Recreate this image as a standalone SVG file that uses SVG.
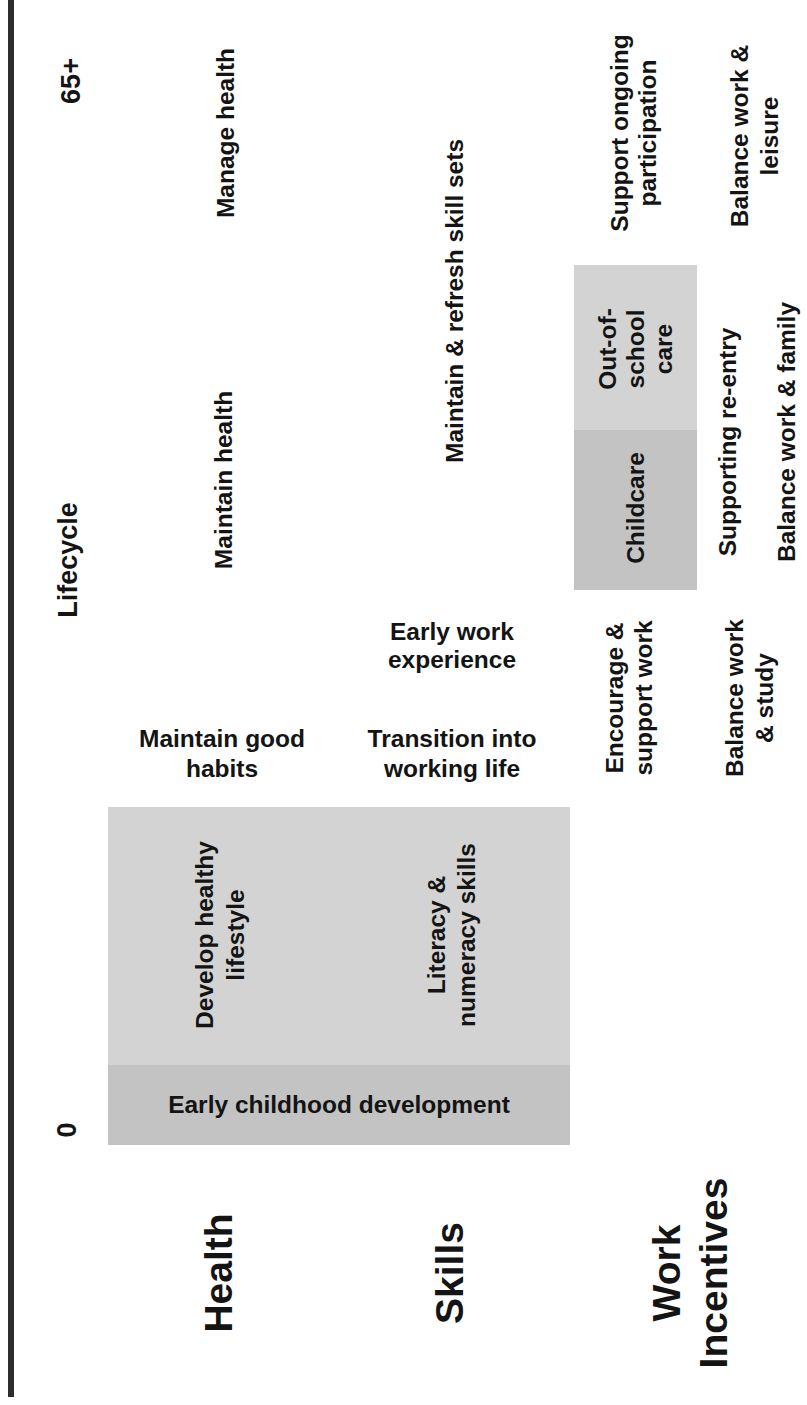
<svg xmlns="http://www.w3.org/2000/svg" width="807" height="1405" viewBox="0 0 807 1405">
<style>
.t{font-family:"Liberation Sans",Arial,Helvetica,sans-serif;font-weight:bold;fill:#141414;text-anchor:middle}
.m{font-size:24.5px}
.l{font-size:27px}
.b{font-size:39px}
.boxA{fill:#d3d3d3}
.boxB{fill:#c3c3c3}
</style>
<rect x="0" y="0" width="807" height="1405" fill="#ffffff"/>
<g id="axis"><rect x="8" y="0" width="6" height="1397" fill="#2e2e2e"/></g>
<g id="connectors"></g>

<g id="age-65"><text class="t l" transform="translate(80,81) rotate(-90)">65+</text></g>
<g id="lifecycle"><text class="t l" transform="translate(77,560) rotate(-90)">Lifecycle</text></g>
<g id="age-0"><text class="t l" transform="translate(76,1130) rotate(-90)">0</text></g>

<g id="manage-health"><text class="t m" transform="translate(234,133) rotate(-90)">Manage health</text></g>
<g id="maintain-health"><text class="t m" transform="translate(232,480) rotate(-90)">Maintain health</text></g>
<g id="maintain-good-habits"><text class="t m" x="222" y="747">Maintain good<tspan x="222" dy="30">habits</tspan></text></g>

<g id="early-childhood-box">
<rect class="boxA" x="108" y="807" width="462" height="258"/>
<rect class="boxB" x="108" y="1065" width="462" height="80"/>
<text class="t m" x="339" y="1113">Early childhood development</text>
</g>
<g id="develop-healthy-lifestyle"><text class="t m" transform="translate(213,935) rotate(-90)">Develop healthy<tspan x="0" dy="31">lifestyle</tspan></text></g>
<g id="literacy-numeracy"><text class="t m" transform="translate(445,935) rotate(-90)">Literacy &amp;<tspan x="0" dy="30">numeracy skills</tspan></text></g>

<g id="maintain-refresh"><text class="t m" transform="translate(463,301) rotate(-90)">Maintain &amp; refresh skill sets</text></g>
<g id="early-work"><text class="t m" x="452" y="640">Early work<tspan x="452" dy="28">experience</tspan></text></g>
<g id="transition"><text class="t m" x="452" y="747">Transition into<tspan x="452" dy="30">working life</tspan></text></g>

<g id="childcare-boxes">
<rect class="boxA" x="574" y="265" width="123" height="165"/>
<rect class="boxB" x="574" y="430" width="123" height="160"/>
</g>
<g id="out-of-school-care"><text class="t m" transform="translate(616,349) rotate(-90)">Out-of-<tspan x="0" dy="28">school</tspan><tspan x="0" dy="28">care</tspan></text></g>
<g id="childcare"><text class="t m" transform="translate(644,508) rotate(-90)">Childcare</text></g>

<g id="support-ongoing"><text class="t m" transform="translate(628,133) rotate(-90)">Support ongoing<tspan x="0" dy="28">participation</tspan></text></g>
<g id="encourage-support"><text class="t m" transform="translate(623,698) rotate(-90)">Encourage &amp;<tspan x="0" dy="29">support work</tspan></text></g>
<g id="supporting-reentry"><text class="t m" transform="translate(736,442) rotate(-90)">Supporting re-entry</text></g>

<g id="balance-leisure"><text class="t m" transform="translate(748,136) rotate(-90)">Balance work &amp;<tspan x="0" dy="30">leisure</tspan></text></g>
<g id="balance-family"><text class="t m" transform="translate(795,432) rotate(-90)">Balance work &amp; family</text></g>
<g id="balance-study"><text class="t m" transform="translate(743,698) rotate(-90)">Balance work<tspan x="0" dy="30">&amp; study</tspan></text></g>

<g id="health"><text class="t b" transform="translate(232,1273) rotate(-90)">Health</text></g>
<g id="skills"><text class="t b" transform="translate(463,1273) rotate(-90)">Skills</text></g>
<g id="work-incentives"><text class="t b" transform="translate(680,1273) rotate(-90)">Work<tspan x="0" dy="47">Incentives</tspan></text></g>
</svg>
